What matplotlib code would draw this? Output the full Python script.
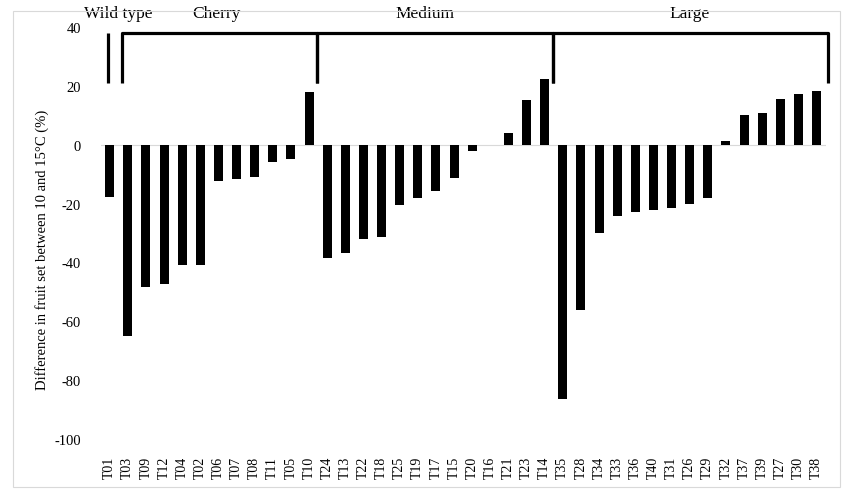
"""Fruit-set difference between 10 and 15 C per accession, grouped by fruit size."""

import matplotlib

matplotlib.use("Agg")
import matplotlib.pyplot as plt  # noqa: E402
from matplotlib.patches import Rectangle  # noqa: E402

LABELS = ["T01", "T03", "T09", "T12", "T04", "T02", "T06", "T07", "T08", "T11",
          "T05", "T10", "T24", "T13", "T22", "T18", "T25", "T19", "T17", "T15",
          "T20", "T16", "T21", "T23", "T14", "T35", "T28", "T34", "T33", "T36",
          "T40", "T31", "T26", "T29", "T32", "T37", "T39", "T27", "T30", "T38"]
VALUES = [-17.8, -65.0, -48.5, -47.2, -41.0, -40.8, -12.3, -11.5, -11.0, -6.0,
          -5.0, 17.9, -38.4, -36.7, -32.0, -31.5, -20.5, -18.0, -15.6, -11.2,
          -2.2, 0.0, 3.9, 15.2, 22.2, -86.5, -56.3, -30.0, -24.2, -22.8,
          -22.3, -21.4, -20.2, -18.0, 1.3, 10.0, 10.7, 15.5, 17.1, 18.4]

# group brackets: (label, label x, left edge, right edge) in category units
GROUPS = [("Wild type", 0.5, None, -0.1),
          ("Cherry", 5.9, 0.66, 11.42),
          ("Medium", 17.4, 11.42, 24.47),
          ("Large", 32.0, 24.47, 39.64)]
BRACKET_LO, BRACKET_HI, TEXT_Y = 21, 38, 44.7

plt.rcParams["font.family"] = ["Liberation Serif", "DejaVu Serif"]
plt.rcParams["axes.unicode_minus"] = False

fig = plt.figure(figsize=(8.53, 5.02), dpi=100)
ax = fig.add_axes([100.6 / 853, 1 - 440 / 502, 725 / 853, 412 / 502])

x = range(len(LABELS))
ax.bar(x, VALUES, width=0.5, color="black", zorder=3)
ax.axhline(0, color="#d9d9d9", lw=0.8, zorder=1)

ax.set_xlim(-0.5, len(LABELS) - 0.5)
ax.set_ylim(-100, 40)
ax.set_yticks(range(-100, 41, 20))
ax.set_xticks(list(x))
ax.set_xticklabels(LABELS, rotation=90, fontsize=10)
ax.tick_params(axis="y", length=0, pad=14, labelsize=10.5)
ax.tick_params(axis="x", length=0, pad=12)
for s in ax.spines.values():
    s.set_visible(False)

for name, tx, left, right in GROUPS:
    kw = dict(color="black", lw=2.3, clip_on=False, solid_capstyle="butt")
    if left is None:
        ax.plot([right, right], [BRACKET_LO, BRACKET_HI], **kw)
    else:
        ax.plot([left, left, right, right],
                [BRACKET_LO, BRACKET_HI, BRACKET_HI, BRACKET_LO], **kw)
    ax.text(tx, TEXT_Y, name, ha="center", va="center", fontsize=12.5,
            clip_on=False)

fig.text(41.7 / 853, 1 - 250 / 502,
         "Difference in fruit set between 10 and 15°C (%)",
         rotation=90, ha="center", va="center", fontsize=10.5)

fig.patches.append(Rectangle((12.7 / 853, 1 - 488 / 502), 827.3 / 853, 476 / 502,
                             transform=fig.transFigure, fill=False,
                             edgecolor="#d9d9d9", lw=0.8))

fig.savefig("out.png", dpi=100)
